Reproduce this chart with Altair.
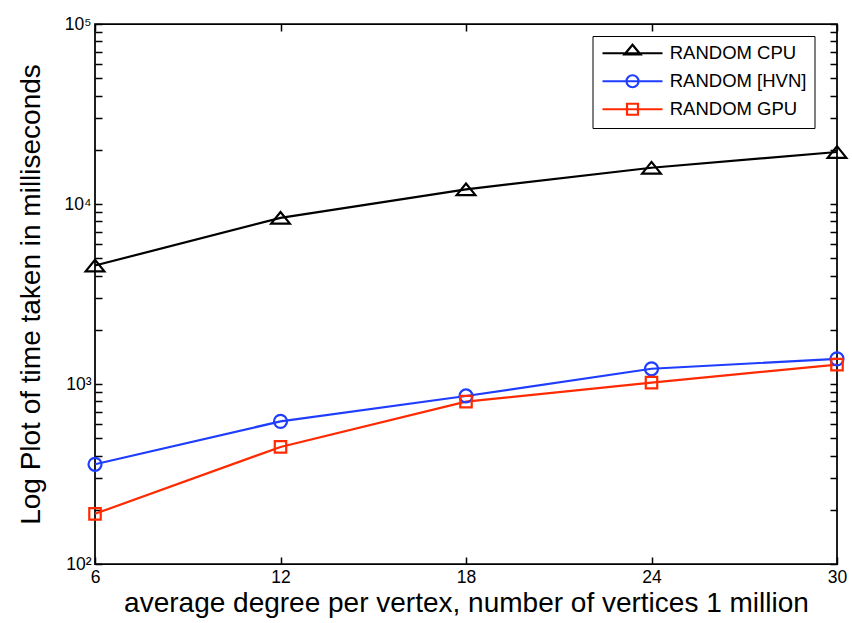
import altair as alt
import pandas as pd

# ---- data ----
degrees = [6, 12, 18, 24, 30]
series_names = ["RANDOM CPU", "RANDOM [HVN]", "RANDOM GPU"]
cpu_ms = [4550, 8380, 12070, 15900, 19450]
hvn_ms = [358, 620, 858, 1215, 1380]
gpu_ms = [190, 447, 798, 1018, 1282]
series_colors = ["#000000", "#1f3dff", "#ff2a00"]

x_ticks = [6, 12, 18, 24, 30]
y_decades = [100, 1000, 10000]

rows = []
for name, vals in zip(series_names, [cpu_ms, hvn_ms, gpu_ms]):
    for d, v in zip(degrees, vals):
        rows.append({"degree": d, "ms": v, "series": name})
df = pd.DataFrame(rows)

# marker shapes (symbol definitions)
tri_path = "M0,-0.9L1.44,0.9L-1.44,0.9Z"
sq_path = "M-0.88,-0.88H0.88V0.88H-0.88Z"
plot_shapes = [tri_path, "circle", sq_path]

leg_tri = "M-6,0H6M0,-1.7L1.6,0.24L-1.6,0.24Z"
leg_circ = "M-6,0H6M1.2,0A1.2,1.2,0,1,1,-1.2,0A1.2,1.2,0,1,1,1.2,0Z"
leg_sq = "M-6,0H6M-1.1,-1.1H1.1V1.1H-1.1Z"
legend_shapes = [leg_tri, leg_circ, leg_sq]

W, H = 742, 540

y_tick_values = [m * d for d in y_decades for m in range(1, 10)] + [100000]

x_axis = alt.Axis(
    values=x_ticks,
    title="average degree per vertex, number of vertices 1 million",
    titleFont="Liberation Sans", titleFontSize=28, titleFontWeight="normal",
    titleColor="black", titlePadding=4,
    labelFont="Liberation Sans", labelFontSize=17.5, labelColor="black",
    labelPadding=4, labelFlush=False, labelOverlap=False,
    ticks=False, tickSize=0, domain=False,
    grid=True, gridColor="black", gridOpacity=1, gridWidth=1.5,
    gridDash=[7, H - 14, 7, 2000],
)
y_axis = alt.Axis(
    values=y_tick_values,
    labelExpr="datum.value == 100 ? '10²' : datum.value == 1000 ? '10³' : "
              "datum.value == 10000 ? '10⁴' : datum.value == 100000 ? '10⁵' : ''",
    title="Log Plot of time taken in milliseconds",
    titleFont="Liberation Sans", titleFontSize=28, titleFontWeight="normal",
    titleColor="black", titlePadding=19,
    labelFont="Liberation Sans", labelFontSize=17.5, labelColor="black",
    labelPadding=4, labelFlush=False, labelOverlap=False,
    ticks=False, tickSize=0, domain=False,
    grid=True, gridColor="black", gridOpacity=1, gridWidth=1.5,
    gridDash=[7, W - 14, 7, 2000],
)

x_enc = alt.X("degree:Q", scale=alt.Scale(domain=[6, 30], nice=False, zero=False), axis=x_axis)
y_enc = alt.Y("ms:Q", scale=alt.Scale(type="log", domain=[100, 100000], nice=False), axis=y_axis)

color_scale = alt.Scale(domain=series_names, range=series_colors)

base = alt.Chart(df)

lines = base.mark_line(strokeWidth=2.2).encode(
    x=x_enc, y=y_enc,
    color=alt.Color("series:N", scale=color_scale, legend=None),
)

points = base.mark_point(filled=False, strokeWidth=2.2, size=169, opacity=1).encode(
    x=x_enc, y=y_enc,
    color=alt.Color("series:N", scale=color_scale, legend=None),
    shape=alt.Shape("series:N", scale=alt.Scale(domain=series_names, range=plot_shapes), legend=None),
)

leg = alt.Legend(
    title=None, orient="none", legendX=497.5, legendY=12,
    padding=8, rowPadding=7,
    symbolSize=100, symbolStrokeWidth=2.2, symbolOffset=22.75,
    labelOffset=28, labelFont="Liberation Sans", labelFontSize=18.5, labelColor="black",
    strokeColor="black", fillColor="white", cornerRadius=0,
)

legend_layer = base.transform_filter("false").mark_point(
    filled=False, strokeWidth=2.2, size=100, opacity=1
).encode(
    x=x_enc, y=y_enc,
    color=alt.Color("series:N", scale=color_scale, legend=leg),
    shape=alt.Shape("series:N", scale=alt.Scale(domain=series_names, range=legend_shapes), legend=leg),
)

chart = alt.layer(lines, points, legend_layer).resolve_scale(
    color="independent", shape="independent"
).properties(
    width=W, height=H,
    autosize=alt.AutoSizeParams(type="none"),
    padding={"left": 95, "top": 24, "right": 15, "bottom": 59},
    background="white",
).configure_view(stroke="black", strokeWidth=1.75)

chart.save("out.html", embed_options={"renderer": "svg", "actions": False})
